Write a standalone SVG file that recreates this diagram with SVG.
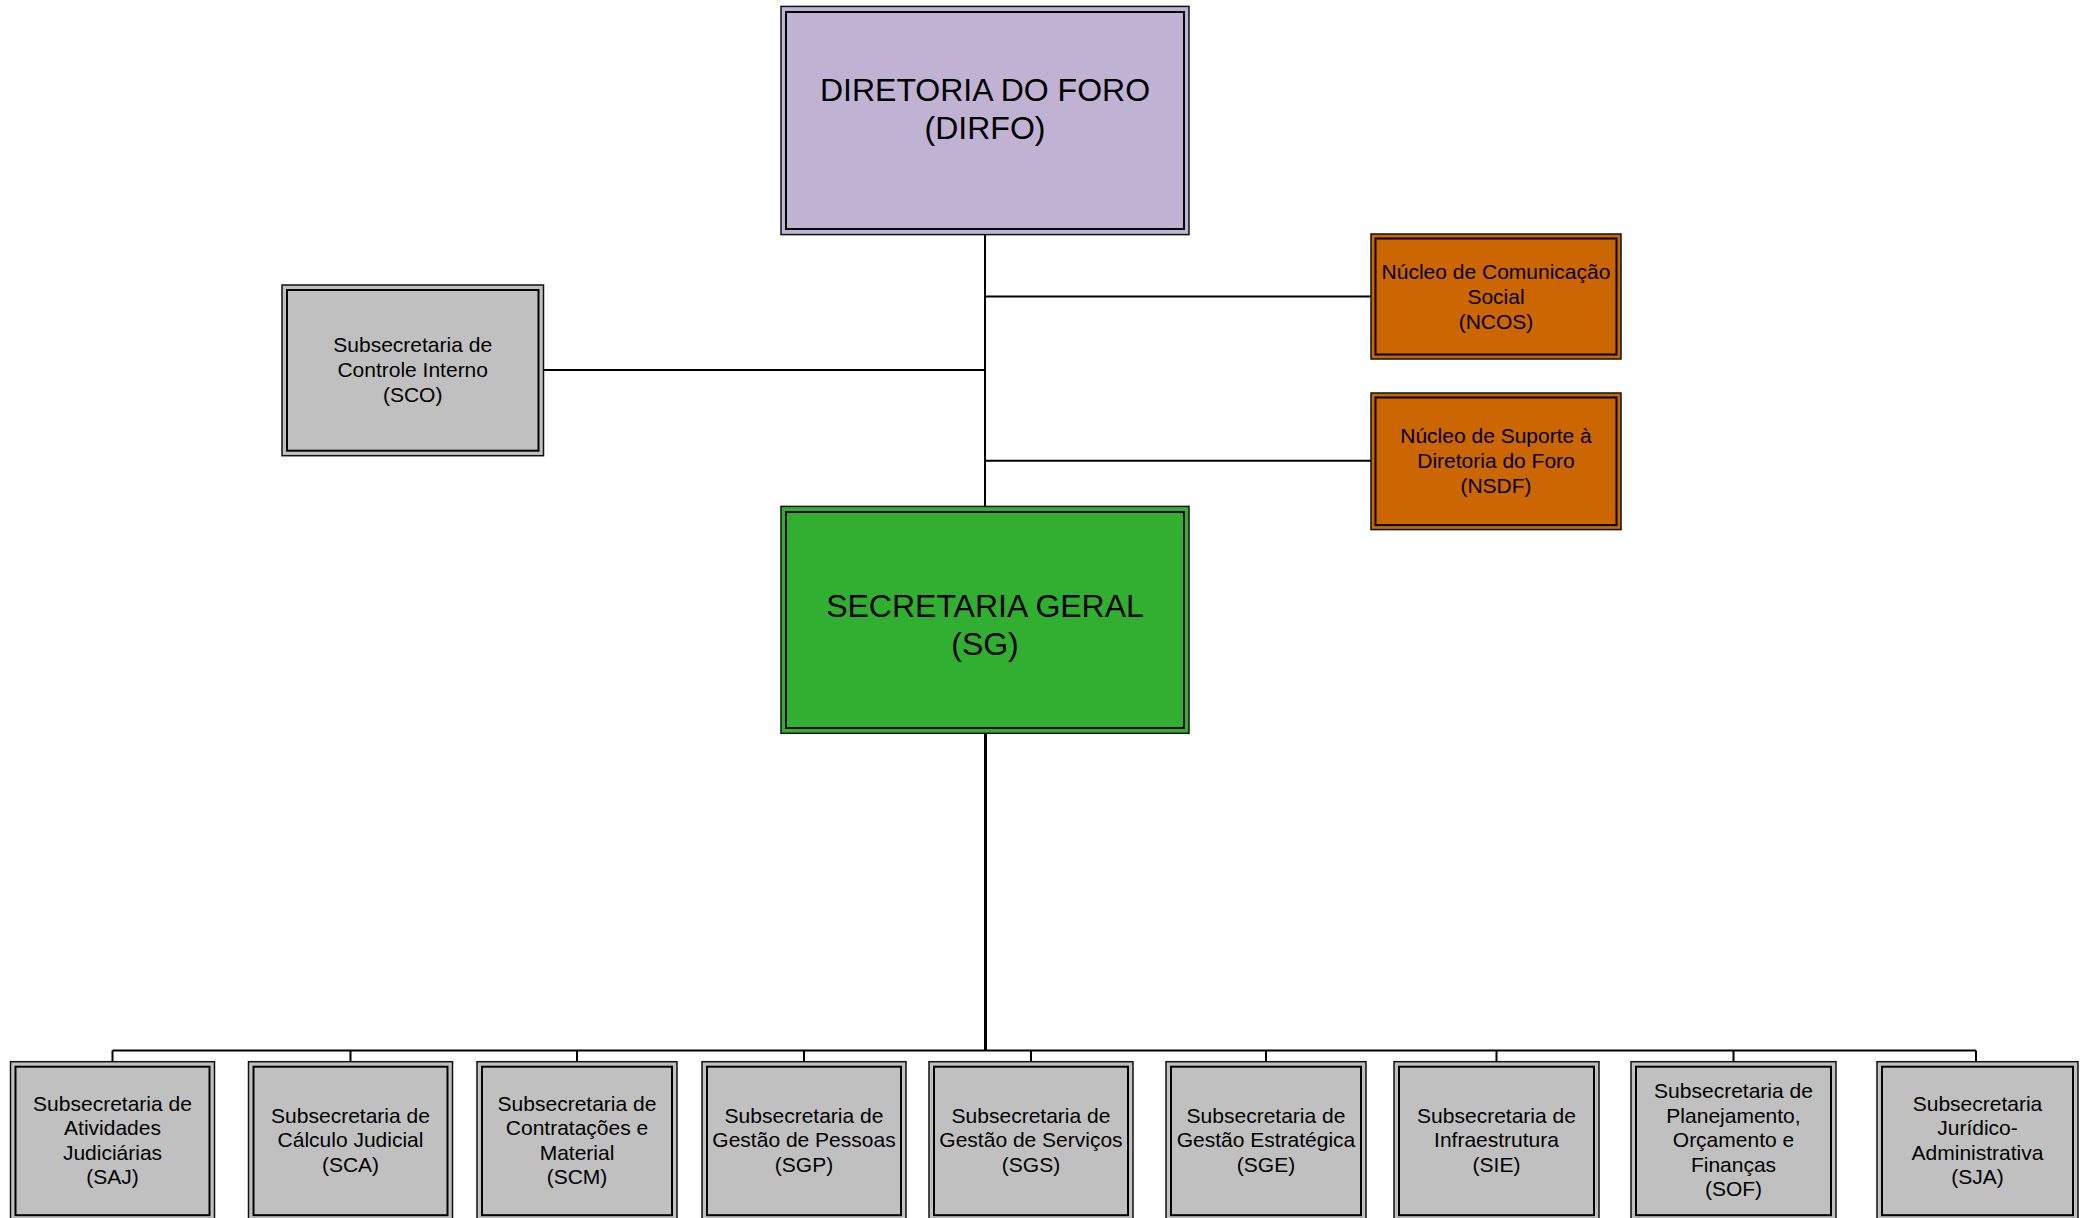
<svg xmlns="http://www.w3.org/2000/svg" width="2080" height="1218" viewBox="0 0 2080 1218">
<style>
.o{stroke:#111;stroke-width:1.5}
.i{fill:none;stroke:#000;stroke-width:2}
.lav{fill:#C0B2D3}
.grn{fill:#31AF30}
.org{fill:#CC6600}
.gry{fill:#C0C0C0}
text{font-family:"Liberation Sans",Arial,sans-serif;text-anchor:middle;fill:#000}
.big{font-size:32px}
.sm{font-size:21px}
.c{stroke:#000;stroke-width:2;fill:none}
.ct{stroke:#000;stroke-width:3;fill:none}
</style>
<rect width="2080" height="1218" fill="#fff"/>
<g id="connectors">
<line class="c" x1="985" y1="234.6" x2="985" y2="506.4"/>
<line class="c" x1="985" y1="296.4" x2="1371" y2="296.4"/>
<line class="c" x1="985" y1="460.7" x2="1371" y2="460.7"/>
<line class="c" x1="543.5" y1="370" x2="985" y2="370"/>
<line class="ct" x1="985.5" y1="733.3" x2="985.5" y2="1050.5"/>
<line class="c" x1="112.5" y1="1050.5" x2="1976" y2="1050.5"/>
<line class="c" x1="112.5" y1="1050.5" x2="112.5" y2="1061.7"/>
<line class="c" x1="350.5" y1="1050.5" x2="350.5" y2="1061.7"/>
<line class="c" x1="577" y1="1050.5" x2="577" y2="1061.7"/>
<line class="c" x1="804" y1="1050.5" x2="804" y2="1061.7"/>
<line class="c" x1="1031" y1="1050.5" x2="1031" y2="1061.7"/>
<line class="c" x1="1266" y1="1050.5" x2="1266" y2="1061.7"/>
<line class="c" x1="1496.5" y1="1050.5" x2="1496.5" y2="1061.7"/>
<line class="c" x1="1733.5" y1="1050.5" x2="1733.5" y2="1061.7"/>
<line class="c" x1="1976" y1="1050.5" x2="1976" y2="1061.7"/>
</g>
<g id="dirfo">
<rect class="o lav" x="781" y="6.4" width="408" height="228.2"/>
<rect class="i" x="786" y="12" width="398" height="217"/>
<text class="big" x="985" y="101">DIRETORIA DO FORO</text>
<text class="big" x="985" y="139">(DIRFO)</text>
</g>
<g id="ncos">
<rect class="o org" x="1371" y="234" width="250" height="125"/>
<rect class="i" x="1375.5" y="238.5" width="241" height="116"/>
<text class="sm" x="1496" y="278.5">Núcleo de Comunicação</text>
<text class="sm" x="1496" y="303.5">Social</text>
<text class="sm" x="1496" y="328.5">(NCOS)</text>
</g>
<g id="nsdf">
<rect class="o org" x="1371" y="393" width="250" height="136.6"/>
<rect class="i" x="1375.5" y="397.5" width="241" height="127.6"/>
<text class="sm" x="1496" y="443">Núcleo de Suporte à</text>
<text class="sm" x="1496" y="468">Diretoria do Foro</text>
<text class="sm" x="1496" y="493">(NSDF)</text>
</g>
<g id="sco">
<rect class="o gry" x="282" y="285" width="261.5" height="170.7"/>
<rect class="i" x="287" y="290" width="251.5" height="160.7"/>
<text class="sm" x="412.7" y="352">Subsecretaria de</text>
<text class="sm" x="412.7" y="377">Controle Interno</text>
<text class="sm" x="412.7" y="402">(SCO)</text>
</g>
<g id="sg">
<rect class="o grn" x="781" y="506.4" width="408" height="226.9"/>
<rect class="i" x="786" y="512" width="398" height="216"/>
<text class="big" x="985" y="617">SECRETARIA GERAL</text>
<text class="big" x="985" y="655">(SG)</text>
</g>
<g id="saj">
<rect class="o gry" x="10.5" y="1061.7" width="204" height="159"/>
<rect class="i" x="15.5" y="1066.7" width="194" height="148.5"/>
<text class="sm" x="112.5" y="1110.5">Subsecretaria de</text>
<text class="sm" x="112.5" y="1135">Atividades</text>
<text class="sm" x="112.5" y="1159.5">Judiciárias</text>
<text class="sm" x="112.5" y="1184">(SAJ)</text>
</g>
<g id="sca">
<rect class="o gry" x="248.5" y="1061.7" width="204" height="159"/>
<rect class="i" x="253.5" y="1066.7" width="194" height="148.5"/>
<text class="sm" x="350.5" y="1122.5">Subsecretaria de</text>
<text class="sm" x="350.5" y="1147">Cálculo Judicial</text>
<text class="sm" x="350.5" y="1171.5">(SCA)</text>
</g>
<g id="scm">
<rect class="o gry" x="477" y="1061.7" width="200" height="159"/>
<rect class="i" x="482" y="1066.7" width="190" height="148.5"/>
<text class="sm" x="577" y="1110.5">Subsecretaria de</text>
<text class="sm" x="577" y="1135">Contratações e</text>
<text class="sm" x="577" y="1159.5">Material</text>
<text class="sm" x="577" y="1184">(SCM)</text>
</g>
<g id="sgp">
<rect class="o gry" x="702" y="1061.7" width="204" height="159"/>
<rect class="i" x="707" y="1066.7" width="194" height="148.5"/>
<text class="sm" x="804" y="1122.5">Subsecretaria de</text>
<text class="sm" x="804" y="1147">Gestão de Pessoas</text>
<text class="sm" x="804" y="1171.5">(SGP)</text>
</g>
<g id="sgs">
<rect class="o gry" x="929" y="1061.7" width="204" height="159"/>
<rect class="i" x="934" y="1066.7" width="194" height="148.5"/>
<text class="sm" x="1031" y="1122.5">Subsecretaria de</text>
<text class="sm" x="1031" y="1147">Gestão de Serviços</text>
<text class="sm" x="1031" y="1171.5">(SGS)</text>
</g>
<g id="sge">
<rect class="o gry" x="1166" y="1061.7" width="200" height="159"/>
<rect class="i" x="1171" y="1066.7" width="190" height="148.5"/>
<text class="sm" x="1266" y="1122.5">Subsecretaria de</text>
<text class="sm" x="1266" y="1147">Gestão Estratégica</text>
<text class="sm" x="1266" y="1171.5">(SGE)</text>
</g>
<g id="sie">
<rect class="o gry" x="1394" y="1061.7" width="205" height="159"/>
<rect class="i" x="1399" y="1066.7" width="195" height="148.5"/>
<text class="sm" x="1496.5" y="1122.5">Subsecretaria de</text>
<text class="sm" x="1496.5" y="1147">Infraestrutura</text>
<text class="sm" x="1496.5" y="1171.5">(SIE)</text>
</g>
<g id="sof">
<rect class="o gry" x="1631" y="1061.7" width="205" height="159"/>
<rect class="i" x="1636" y="1066.7" width="195" height="148.5"/>
<text class="sm" x="1733.5" y="1098">Subsecretaria de</text>
<text class="sm" x="1733.5" y="1122.5">Planejamento,</text>
<text class="sm" x="1733.5" y="1147">Orçamento e</text>
<text class="sm" x="1733.5" y="1171.5">Finanças</text>
<text class="sm" x="1733.5" y="1196">(SOF)</text>
</g>
<g id="sja">
<rect class="o gry" x="1877" y="1061.7" width="201" height="159"/>
<rect class="i" x="1882" y="1066.7" width="191" height="148.5"/>
<text class="sm" x="1977.5" y="1110.5">Subsecretaria</text>
<text class="sm" x="1977.5" y="1135">Jurídico-</text>
<text class="sm" x="1977.5" y="1159.5">Administrativa</text>
<text class="sm" x="1977.5" y="1184">(SJA)</text>
</g>
</svg>
